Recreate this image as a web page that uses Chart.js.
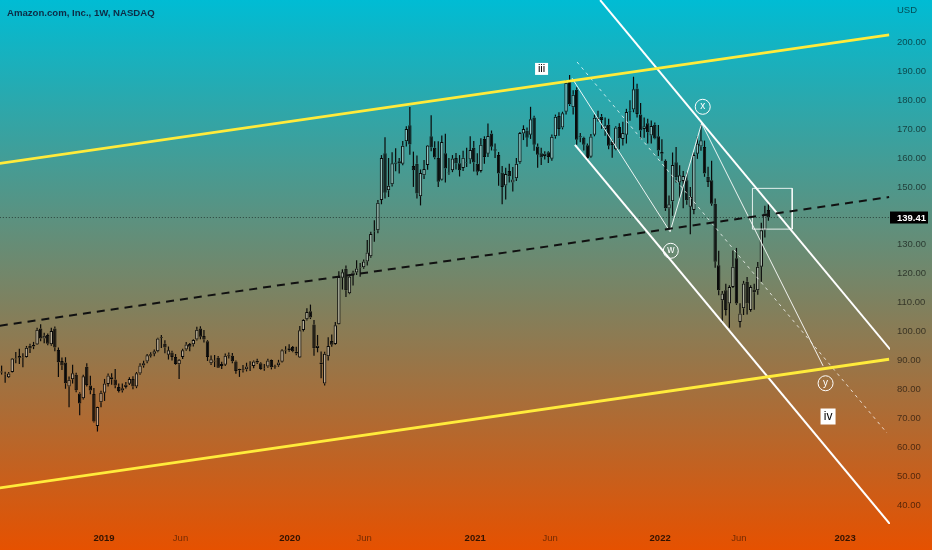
<!DOCTYPE html>
<html>
<head>
<meta charset="utf-8">
<script src="https://cdn.jsdelivr.net/npm/chart.js@4.4.1/dist/chart.umd.min.js"></script>
<style>
  html, body { margin: 0; padding: 0; }
  #wrap { width: 932px; height: 550px; }
</style>
</head>
<body>
<div id="wrap"><canvas id="grafico" width="932" height="550"></canvas></div>
<script>
// semana 0 = semana de 31/12/2018; primeira vela = semana de 18/06/2018
const firstWeek = -28;

const opens = [
  86.2, 85.1, 84.2, 86.0, 90.4, 91.5, 91.0, 91.2, 95.1, 94.8, 95.5, 101.0, 97.6, 98.8, 95.6, 101.0, 93.6, 89.8, 89.3, 81.0, 83.5, 85.0, 78.6, 76.9, 87.8, 81.3, 78.4, 67.3,
  75.5, 78.8, 81.8, 84.2, 83.4, 80.8, 79.6, 80.8, 81.9, 83.6, 81.0, 85.5, 88.2, 89.6, 91.6, 92.3, 93.2, 97.8, 95.8, 92.0, 92.7, 91.2, 88.7, 91.2, 93.8, 95.7, 95.6, 97.2, 101.0, 98.4, 96.6, 89.0, 89.9, 90.9, 88.1, 88.5, 91.6, 91.6, 89.6, 86.6, 86.6, 86.9, 88.2, 88.1, 89.9, 89.0, 87.2, 87.9, 90.1, 87.7, 88.3, 89.5,
  93.4, 93.5, 94.6, 92.4, 91.0, 100.5, 104.2, 107.0, 102.4, 94.3, 88.7, 82.0, 91.4, 96.7, 95.7, 102.5, 118.6, 121.7, 113.2, 119.5, 120.4, 122.0, 122.2, 124.2, 126.0, 134.7, 135.0, 145.5, 161.6, 148.8, 150.9, 158.0, 158.9, 158.0, 165.8, 171.3, 157.2, 158.0, 146.8, 154.0, 157.6, 167.5, 163.5, 160.0, 152.5, 161.6, 154.7, 155.8, 160.0, 158.2, 156.5, 158.4, 159.5,
  163.5, 158.0, 155.5, 166.6, 161.5, 168.5, 163.0, 161.0, 155.0, 150.5, 155.5, 151.5, 153.0, 158.5, 168.5, 169.5, 168.0, 174.0, 164.0, 161.6, 160.7, 162.0, 159.7, 167.5, 174.5, 170.5, 176.0, 187.0, 177.5, 183.6, 167.5, 167.0, 164.4, 160.4, 168.0, 174.0, 174.3, 170.0, 171.5, 165.5, 163.0, 170.7, 166.6, 168.0, 176.0, 176.8, 184.0, 175.0, 170.0, 172.0, 167.8, 171.5,
  167.5, 161.5, 159.0, 142.5, 145.0, 158.5, 151.5, 152.0, 152.3, 143.1, 142.0, 161.5, 164.0, 163.8, 153.5, 152.3, 144.2, 122.9, 110.8, 114.3, 109.7, 115.4, 125.3, 103.3, 108.0, 117.2, 107.4, 114.5, 114.3, 122.4, 135.0, 142.0
];
const highs = [
  88.2, 86.1, 86.0, 90.8, 92.9, 94.0, 92.5, 95.0, 95.8, 96.4, 101.3, 102.5, 99.6, 99.3, 101.3, 101.7, 94.5, 91.0, 91.1, 84.4, 88.5, 85.7, 79.0, 85.0, 89.0, 84.7, 80.5, 74.0,
  79.5, 83.6, 85.5, 85.6, 87.0, 82.0, 82.0, 82.5, 84.2, 84.5, 86.0, 89.0, 89.9, 92.2, 92.8, 93.8, 97.8, 98.8, 97.0, 94.8, 93.3, 92.2, 90.5, 94.0, 96.4, 96.0, 97.3, 101.6, 101.8, 100.5, 97.0, 91.7, 91.9, 91.5, 89.5, 92.4, 92.7, 92.6, 90.0, 87.1, 88.4, 89.2, 89.7, 90.0, 90.6, 89.4, 88.8, 90.6, 90.3, 88.5, 90.2, 93.9,
  94.9, 95.6, 95.0, 94.7, 101.9, 104.2, 108.0, 109.3, 104.0, 98.8, 93.1, 93.0, 98.0, 99.0, 103.3, 120.8, 121.5, 122.8, 119.8, 121.0, 124.6, 123.7, 124.9, 131.6, 134.5, 138.5, 145.5, 161.0, 167.2, 160.0, 162.0, 163.4, 160.0, 165.9, 171.0, 177.6, 162.2, 160.9, 156.0, 159.3, 164.5, 174.8, 165.8, 165.8, 167.8, 168.4, 160.0, 161.0, 161.7, 161.0, 162.5, 163.5, 167.5,
  165.9, 161.6, 166.8, 167.5, 171.9, 169.5, 165.0, 162.1, 157.2, 156.6, 158.0, 156.9, 160.0, 169.0, 171.3, 170.5, 177.7, 174.6, 165.0, 163.5, 162.3, 162.3, 168.1, 175.0, 175.8, 176.0, 187.0, 188.7, 183.4, 184.5, 168.6, 167.3, 165.0, 168.3, 175.0, 176.3, 175.2, 174.0, 173.6, 166.3, 171.0, 172.0, 172.5, 177.0, 180.0, 188.1, 185.7, 179.0, 174.0, 173.6, 173.0, 172.3,
  171.4, 166.5, 159.5, 147.0, 161.9, 163.8, 157.5, 155.5, 155.0, 150.0, 162.0, 167.5, 171.4, 166.0, 157.0, 159.0, 146.0, 127.9, 114.0, 116.5, 116.0, 128.0, 128.9, 109.8, 117.5, 118.8, 116.0, 116.5, 124.0, 137.6, 143.5, 144.2
];
const lows = [
  85.1, 82.3, 83.9, 85.8, 89.0, 88.8, 87.6, 91.0, 92.6, 93.9, 95.3, 96.6, 95.9, 95.2, 95.1, 93.2, 84.3, 86.7, 80.2, 73.8, 82.0, 79.0, 71.0, 76.5, 81.0, 78.3, 68.5, 65.4,
  73.8, 76.0, 81.0, 81.6, 80.4, 78.9, 78.9, 80.3, 81.5, 80.0, 80.4, 85.0, 87.5, 89.0, 91.0, 91.4, 92.8, 94.3, 92.5, 90.3, 90.0, 88.5, 83.6, 90.5, 93.3, 93.2, 94.8, 96.9, 97.3, 96.2, 89.8, 88.4, 87.7, 87.4, 87.0, 88.1, 90.7, 89.0, 85.4, 84.3, 85.8, 86.2, 86.3, 87.3, 88.8, 86.8, 86.4, 87.5, 86.9, 87.1, 87.8, 89.3,
  92.3, 93.0, 92.8, 91.8, 90.8, 100.0, 103.8, 104.3, 91.6, 92.8, 83.8, 81.3, 90.0, 94.7, 95.4, 102.4, 114.5, 111.9, 112.9, 115.9, 119.5, 118.9, 121.7, 122.8, 125.5, 131.0, 134.0, 144.0, 146.0, 146.5, 150.1, 155.4, 154.6, 157.5, 164.0, 161.1, 150.0, 146.0, 143.6, 152.7, 155.9, 162.3, 159.6, 150.0, 152.2, 151.5, 154.2, 155.1, 156.0, 153.6, 155.5, 156.9, 158.0,
  155.3, 154.0, 155.0, 158.0, 160.3, 162.6, 160.0, 150.4, 144.0, 145.6, 151.5, 148.4, 152.0, 158.0, 166.2, 163.9, 166.6, 162.5, 156.6, 157.6, 159.5, 158.3, 159.0, 166.7, 167.7, 169.9, 175.0, 178.0, 175.0, 164.6, 165.4, 162.6, 159.0, 160.1, 167.5, 172.6, 170.1, 167.7, 163.0, 160.1, 162.7, 163.0, 164.3, 165.0, 172.9, 175.8, 174.0, 166.6, 167.0, 165.0, 165.0, 166.5,
  160.7, 159.0, 141.7, 135.4, 140.0, 151.5, 146.0, 142.6, 143.8, 133.6, 140.5, 159.7, 162.5, 153.5, 150.0, 143.5, 122.0, 112.5, 102.8, 105.5, 101.3, 115.0, 109.2, 101.4, 105.7, 105.9, 106.8, 107.5, 112.7, 117.2, 132.5, 138.3
];
const closes = [
  85.8, 85.0, 85.5, 90.7, 90.7, 90.9, 91.2, 94.4, 94.1, 95.3, 100.6, 97.6, 98.5, 95.8, 100.2, 94.5, 89.4, 88.2, 82.1, 83.3, 85.6, 79.7, 75.1, 84.5, 81.5, 79.6, 68.9, 73.9,
  78.8, 82.0, 84.8, 83.5, 81.3, 79.4, 80.4, 81.6, 83.6, 81.0, 85.6, 88.2, 89.0, 91.8, 92.1, 93.2, 97.6, 98.1, 94.5, 93.5, 91.2, 88.8, 90.2, 93.5, 95.5, 94.7, 97.1, 100.6, 98.2, 97.2, 91.2, 90.4, 89.6, 87.5, 88.8, 91.6, 92.0, 89.7, 86.3, 87.0, 86.9, 87.9, 88.1, 89.6, 89.3, 87.0, 87.3, 90.0, 87.6, 88.0, 89.3, 93.5,
  93.7, 94.2, 93.2, 93.0, 100.4, 104.0, 106.7, 104.8, 94.2, 95.1, 89.3, 92.3, 95.0, 95.4, 102.2, 118.8, 120.5, 114.3, 119.0, 120.4, 121.8, 122.2, 124.2, 127.3, 133.7, 134.6, 144.5, 160.0, 148.0, 150.4, 158.2, 158.4, 158.1, 164.2, 170.0, 164.7, 155.8, 147.7, 154.8, 156.2, 164.3, 163.6, 160.2, 151.8, 165.5, 156.4, 155.0, 159.8, 158.1, 155.8, 160.1, 158.6, 162.8,
  158.4, 155.2, 164.6, 160.3, 167.6, 163.9, 162.5, 154.6, 150.0, 154.5, 153.7, 152.6, 158.0, 168.6, 170.0, 167.0, 173.4, 164.6, 161.1, 160.2, 161.5, 160.3, 167.3, 174.3, 170.0, 175.5, 186.0, 178.6, 181.9, 166.3, 167.2, 164.6, 160.0, 167.4, 173.9, 173.5, 173.1, 171.3, 164.2, 164.5, 170.5, 166.8, 168.6, 175.9, 176.3, 183.8, 175.2, 169.5, 171.0, 168.9, 171.1, 166.7,
  162.6, 162.1, 142.6, 144.0, 157.6, 153.3, 154.0, 153.8, 145.4, 146.5, 161.0, 165.0, 166.1, 154.6, 151.7, 144.2, 124.1, 114.3, 113.1, 107.4, 115.4, 122.4, 109.7, 106.2, 116.6, 109.7, 115.4, 113.6, 122.4, 135.0, 140.8, 139.4
];

const lastPrice = 139.41;

const xTicks = [0.85, 22.4, 53.2, 74.1, 105.4, 126.5, 157.5, 179.7, 209.6];
const xTickLabels = ['2019', 'Jun', '2020', 'Jun', '2021', 'Jun', '2022', 'Jun', '2023'];
const yTicks = [40, 50, 60, 70, 80, 90, 100, 110, 120, 130, 140, 150, 160, 170, 180, 190, 200];

// linhas de tendencia: [semana, preco]
const canalSuperior = [[-28.5, 158.1], [222, 202.6]];
const canalInferior = [[-28.5, 45.9], [222, 90.4]];
const canalMeio = [[-28.5, 102.0], [222, 146.5]];
const quedaTopo = [[140.6, 214.6], [222.3, 93.8]];
const quedaBase = [[133.5, 164.5], [222.3, 33.3]];
const quedaMeio = [[134.1, 193.2], [221.4, 64.9]];
const ondas = [[132.7, 187.6], [160.3, 134.5], [169.2, 172.0], [203.4, 88.1]];
const caixa = [[183.5, 149.5], [194.7, 149.5], [194.7, 135.4], [183.5, 135.4], [183.5, 149.5]];

const rotulos = ['iii', 'x', 'w', 'y', 'iv'];
const rotulosSemana = [124.1, 169.5, 160.5, 204.1, 204.8];
const rotulosPreco = [190.8, 177.7, 127.9, 82.1, 70.6];

const weeks = opens.map((_, i) => firstWeek + i);
const pts = arr => arr.map(p => ({x: p[0], y: p[1]}));
const FONTE = '"Liberation Sans", Arial, sans-serif';

function linha(dados, cor, largura, traco) {
  return {
    type: 'line',
    data: pts(dados),
    borderColor: cor,
    borderWidth: largura,
    borderDash: traco || [],
    pointRadius: 0,
    fill: false,
    tension: 0,
    order: 0
  };
}

const fundoEDesenhos = {
  id: 'fundoEDesenhos',
  beforeDraw(chart) {
    const {ctx, width, height} = chart;
    const g = ctx.createLinearGradient(0, 0, 0, height);
    g.addColorStop(0, '#00bcd4');
    g.addColorStop(1, '#e65100');
    ctx.save();
    ctx.fillStyle = g;
    ctx.fillRect(0, 0, width, height);
    ctx.restore();
  },
  afterDatasetsDraw(chart) {
    const {ctx, chartArea} = chart;
    const x = chart.scales.x, y = chart.scales.y;
    ctx.save();
    ctx.textAlign = 'center';
    ctx.textBaseline = 'middle';
    rotulos.forEach((txt, i) => {
      const px = x.getPixelForValue(rotulosSemana[i]);
      const py = y.getPixelForValue(rotulosPreco[i]);
      if (txt === 'iii' || txt === 'iv') {
        const w = txt === 'iii' ? 13 : 15;
        const h = txt === 'iii' ? 12 : 16;
        ctx.fillStyle = '#ffffff';
        ctx.fillRect(px - w / 2, py - h / 2, w, h);
        ctx.fillStyle = '#000000';
        ctx.font = (txt === 'iii' ? '11px ' : '12px ') + FONTE;
        ctx.fillText(txt, px, py + 0.5);
      } else {
        ctx.strokeStyle = '#ffffff';
        ctx.lineWidth = 1;
        ctx.beginPath();
        ctx.arc(px, py, 7.5, 0, Math.PI * 2);
        ctx.stroke();
        ctx.fillStyle = '#ffffff';
        ctx.font = '10px ' + FONTE;
        ctx.fillText(txt, px, py - 0.5);
      }
    });
    // etiqueta do ultimo preco
    const py = y.getPixelForValue(lastPrice);
    ctx.fillStyle = '#000000';
    ctx.fillRect(chartArea.right, py - 6, 38, 12);
    ctx.fillStyle = '#ffffff';
    ctx.textAlign = 'left';
    ctx.font = 'bold 9.5px ' + FONTE;
    ctx.fillText(lastPrice.toFixed(2), chartArea.right + 7, py + 0.5);
    ctx.restore();
  },
  afterDraw(chart) {
    const {ctx, chartArea} = chart;
    ctx.save();
    ctx.textBaseline = 'middle';
    ctx.textAlign = 'left';
    ctx.fillStyle = '#0d2b45';
    ctx.font = 'bold 9.6px ' + FONTE;
    ctx.fillText('Amazon.com, Inc., 1W, NASDAQ', 7, 13);
    ctx.fillStyle = 'rgba(0,0,0,0.6)';
    ctx.font = '9.5px ' + FONTE;
    ctx.fillText('USD', chartArea.right + 7, 10.5);
    ctx.restore();
  }
};

const sobe = i => closes[i] >= opens[i];

const grafico = new Chart(document.getElementById('grafico'), {
  type: 'bar',
  plugins: [fundoEDesenhos],
  data: {
    datasets: [
      linha(canalSuperior, '#ffeb3b', 2.8),
      linha(canalInferior, '#ffeb3b', 2.8),
      linha(canalMeio, '#111111', 2, [8, 6]),
      linha(quedaTopo, '#ffffff', 2),
      linha(quedaBase, '#ffffff', 2),
      linha(quedaMeio, 'rgba(255,255,255,0.75)', 1, [3, 4]),
      linha(ondas, 'rgba(255,255,255,0.9)', 1),
      linha(caixa, 'rgba(255,255,255,0.85)', 1),
      linha([[-28.5, lastPrice], [222.3, lastPrice]], 'rgba(0,0,0,0.55)', 1, [1, 2]),
      {
        label: 'corpo',
        data: weeks.map((w, i) => ({x: w, y: [opens[i], closes[i]]})),
        backgroundColor: ctx => sobe(ctx.dataIndex) ? 'rgba(255,255,255,0.4)' : '#0a0a0a',
        borderColor: '#0a0a0a',
        borderWidth: 1,
        borderSkipped: false,
        barThickness: 3.4,
        grouped: false,
        inflateAmount: 0,
        order: 1
      },
      {
        label: 'pavio superior',
        data: weeks.map((w, i) => ({x: w, y: [Math.max(opens[i], closes[i]), highs[i]]})),
        backgroundColor: '#0a0a0a',
        borderWidth: 0,
        barThickness: 1.2,
        grouped: false,
        inflateAmount: 0,
        order: 2
      },
      {
        label: 'pavio inferior',
        data: weeks.map((w, i) => ({x: w, y: [lows[i], Math.min(opens[i], closes[i])]})),
        backgroundColor: '#0a0a0a',
        borderWidth: 0,
        barThickness: 1.2,
        grouped: false,
        inflateAmount: 0,
        order: 2
      }
    ]
  },
  options: {
    responsive: false,
    devicePixelRatio: 1,
    animation: false,
    layout: { padding: 0 },
    plugins: {
      legend: { display: false },
      tooltip: { enabled: false },
      title: { display: false }
    },
    scales: {
      x: {
        type: 'linear',
        min: -28.45,
        max: 222.25,
        offset: false,
        grid: { display: false, drawTicks: false },
        border: { display: false },
        afterBuildTicks: s => { s.ticks = xTicks.map(v => ({value: v})); },
        afterFit: s => { s.height = 26; s.paddingLeft = 0; s.paddingRight = 0; },
        ticks: {
          autoSkip: false,
          maxRotation: 0,
          padding: 9,
          callback: (v, i) => xTickLabels[i],
          color: ctx => xTickLabels[ctx.index] === 'Jun' ? 'rgba(0,0,0,0.5)' : 'rgba(0,0,0,0.78)',
          font: ctx => ({
            family: FONTE,
            size: 9.5,
            weight: xTickLabels[ctx.index] === 'Jun' ? 'normal' : 'bold'
          })
        }
      },
      y: {
        type: 'linear',
        position: 'right',
        min: 33.43,
        max: 214.63,
        grid: { display: false, drawTicks: false },
        border: { display: false },
        afterBuildTicks: s => { s.ticks = yTicks.map(v => ({value: v})); },
        afterFit: s => { s.width = 42; s.paddingTop = 0; s.paddingBottom = 0; },
        ticks: {
          padding: 7,
          callback: v => Number(v).toFixed(2),
          color: 'rgba(0,0,0,0.6)',
          font: { family: FONTE, size: 9.5 }
        }
      }
    }
  }
});
</script>
</body>
</html>
